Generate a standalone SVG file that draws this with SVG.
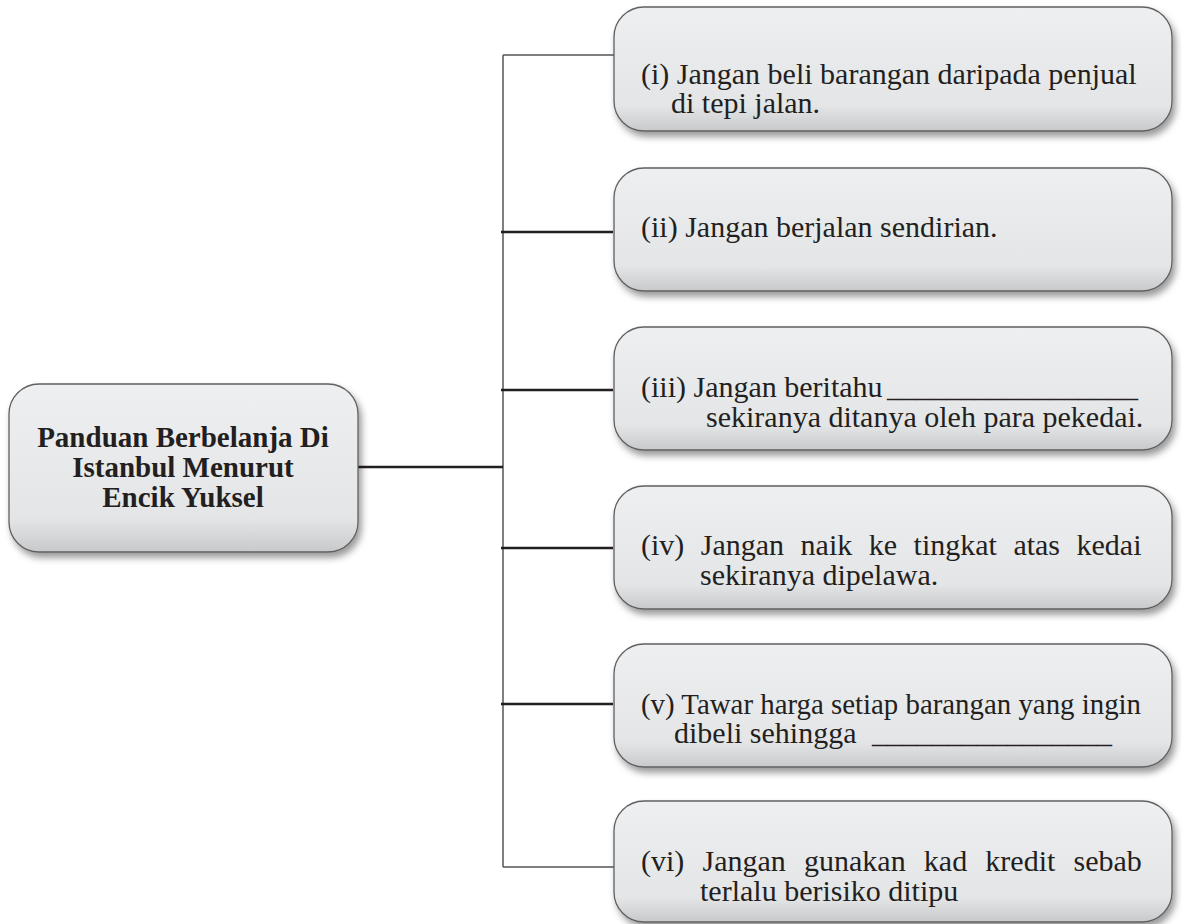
<svg xmlns="http://www.w3.org/2000/svg" width="1182" height="924" viewBox="0 0 1182 924">
<defs>
<linearGradient id="g" x1="0" y1="0" x2="0" y2="1">
<stop offset="0" stop-color="#eeeff0"/>
<stop offset="0.8" stop-color="#e4e5e7"/>
<stop offset="1" stop-color="#c8c9cb"/>
</linearGradient>
<filter id="sh" x="-5%" y="-10%" width="115%" height="130%">
<feDropShadow dx="3" dy="5" stdDeviation="3.5" flood-color="#000" flood-opacity="0.4"/>
</filter>
</defs>
<style>
.box{fill:url(#g);stroke:#5f6062;stroke-width:1.3;filter:url(#sh)}
.t{font-family:"Liberation Serif","Times New Roman",serif;font-size:30px;fill:#231f20}
.b{font-family:"Liberation Serif","Times New Roman",serif;font-size:29px;font-weight:bold;fill:#231f20;text-anchor:middle}
.thick{stroke:#231f20;stroke-width:2.6;fill:none}
.thin{stroke:#555;stroke-width:1.5;fill:none}
</style>
<rect width="1182" height="924" fill="#fff"/>
<g id="connectors">
<line class="thin" x1="503" y1="55" x2="503" y2="867"/>
<line class="thin" x1="503" y1="55" x2="614" y2="55"/>
<line class="thin" x1="503" y1="867" x2="614" y2="867"/>
<line class="thick" x1="357" y1="467" x2="503" y2="467"/>
<line class="thick" x1="501" y1="232" x2="613" y2="232"/>
<line class="thick" x1="501" y1="390" x2="613" y2="390"/>
<line class="thick" x1="501" y1="548" x2="613" y2="548"/>
<line class="thick" x1="501" y1="704" x2="613" y2="704"/>
</g>
<g id="main">
<rect class="box" x="9" y="384" width="349" height="168" rx="30"/>
<text class="b" x="183" y="447">Panduan Berbelanja Di</text>
<text class="b" x="183" y="477">Istanbul Menurut</text>
<text class="b" x="183" y="507">Encik Yuksel</text>
</g>
<g id="n1">
<rect class="box" x="614" y="7" width="558" height="124" rx="30"/>
<text class="t" x="641" y="84">(i) Jangan beli barangan daripada penjual</text>
<text class="t" x="671" y="113">di tepi jalan.</text>
</g>
<g id="n2">
<rect class="box" x="614" y="168" width="558" height="123" rx="30"/>
<text class="t" x="641" y="237">(ii) Jangan berjalan sendirian.</text>
</g>
<g id="n3">
<rect class="box" x="614" y="327" width="558" height="123" rx="30"/>
<text class="t" x="641" y="397">(iii) Jangan beritahu <tspan x="887" textLength="251" lengthAdjust="spacingAndGlyphs">_________________</tspan></text>
<text class="t" x="706" y="427">sekiranya ditanya oleh para pekedai.</text>
</g>
<g id="n4">
<rect class="box" x="614" y="486" width="558" height="123" rx="30"/>
<text class="t" x="641" y="555" word-spacing="9">(iv) Jangan naik ke tingkat atas kedai</text>
<text class="t" x="700" y="585">sekiranya dipelawa.</text>
</g>
<g id="n5">
<rect class="box" x="614" y="644" width="558" height="123" rx="30"/>
<text class="t" x="641" y="714" textLength="500" lengthAdjust="spacingAndGlyphs">(v) Tawar harga setiap barangan yang ingin</text>
<text class="t" x="674" y="743">dibeli sehingga <tspan x="872" textLength="240" lengthAdjust="spacingAndGlyphs">________________</tspan></text>
</g>
<g id="n6">
<rect class="box" x="614" y="801" width="558" height="121" rx="30"/>
<text class="t" x="641" y="871" word-spacing="10.7">(vi) Jangan gunakan kad kredit sebab</text>
<text class="t" x="700" y="901">terlalu berisiko ditipu</text>
</g>
</svg>
